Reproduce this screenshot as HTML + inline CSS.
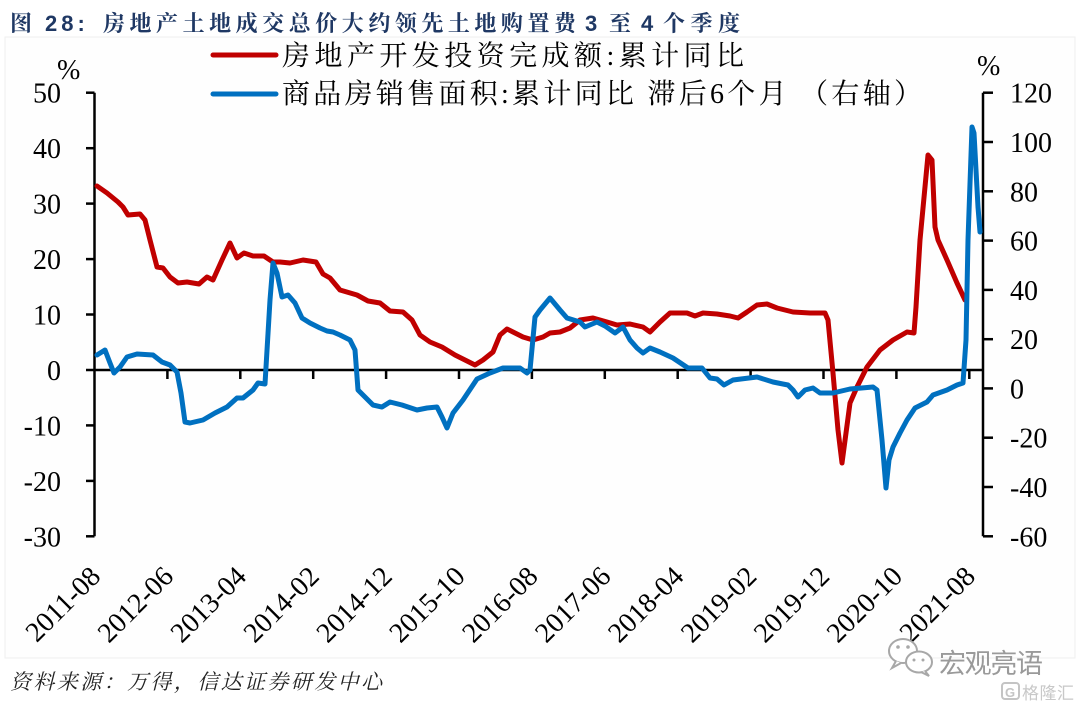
<!DOCTYPE html>
<html>
<head>
<meta charset="utf-8">
<style>
  html, body { margin: 0; padding: 0; background: #ffffff; }
  svg { display: block; }
</style>
</head>
<body>
<svg width="1080" height="704" viewBox="0 0 1080 704" xmlns="http://www.w3.org/2000/svg">
  <rect x="0" y="0" width="1080" height="704" fill="#ffffff"/>
  <rect x="5" y="37" width="1070" height="621" fill="#fefefe" stroke="#efefef" stroke-width="1"/>

  <!-- Title -->
  <g font-family="'Liberation Sans','Noto Serif CJK SC',serif" font-size="22" font-weight="bold" fill="#1F3864">
    <text x="10" y="31">图</text>
    <text x="45" y="31" letter-spacing="4">28:</text>
    <text x="103" y="31" textLength="473" lengthAdjust="spacing">房地产土地成交总价大约领先土地购置费</text>
    <text x="585" y="31">3</text>
    <text x="609" y="31">至</text>
    <text x="641" y="31">4</text>
    <text x="663" y="31" textLength="77" lengthAdjust="spacing">个季度</text>
  </g>

  <!-- Legend -->
  <line x1="213" y1="55" x2="276" y2="55" stroke="#C00000" stroke-width="5" stroke-linecap="round"/>
  <text x="282" y="65" font-family="'Liberation Serif','Noto Serif CJK SC',serif" font-size="28" fill="#000" textLength="462" lengthAdjust="spacing">房地产开发投资完成额:累计同比</text>
  <line x1="213" y1="94" x2="276" y2="94" stroke="#0070C0" stroke-width="5" stroke-linecap="round"/>
  <text x="282" y="103" font-family="'Liberation Serif','Noto Serif CJK SC',serif" font-size="28" fill="#000" textLength="640" lengthAdjust="spacing">商品房销售面积:累计同比 滞后6个月 （右轴）</text>

  <!-- Unit labels -->
  <text x="57" y="79" font-family="'Liberation Serif',serif" font-size="28" fill="#000">%</text>
  <text x="977" y="75" font-family="'Liberation Serif',serif" font-size="28" fill="#000">%</text>

  <!-- Left axis labels -->
  <g font-family="'Liberation Serif',serif" font-size="28" fill="#000" text-anchor="end">
    <text x="61" y="102.7">50</text>
    <text x="61" y="158.2">40</text>
    <text x="61" y="213.6">30</text>
    <text x="61" y="269.1">20</text>
    <text x="61" y="324.5">10</text>
    <text x="61" y="380">0</text>
    <text x="61" y="435.4">-10</text>
    <text x="61" y="490.9">-20</text>
    <text x="61" y="546.3">-30</text>
  </g>

  <!-- Right axis labels -->
  <g font-family="'Liberation Serif',serif" font-size="28" fill="#000" text-anchor="start">
    <text x="1010" y="102.7">120</text>
    <text x="1010" y="152">100</text>
    <text x="1010" y="201.3">80</text>
    <text x="1010" y="250.6">60</text>
    <text x="1010" y="299.9">40</text>
    <text x="1010" y="349.2">20</text>
    <text x="1010" y="398.4">0</text>
    <text x="1010" y="447.7">-20</text>
    <text x="1010" y="497">-40</text>
    <text x="1010" y="546.3">-60</text>
  </g>

  <!-- Axes -->
  <g stroke="#000" stroke-width="2.5" fill="none">
    <line x1="94.5" y1="92.7" x2="94.5" y2="536.3"/>
    <line x1="86" y1="92.7" x2="94.5" y2="92.7"/>
    <line x1="86" y1="148.2" x2="94.5" y2="148.2"/>
    <line x1="86" y1="203.6" x2="94.5" y2="203.6"/>
    <line x1="86" y1="259.1" x2="94.5" y2="259.1"/>
    <line x1="86" y1="314.5" x2="94.5" y2="314.5"/>
    <line x1="86" y1="425.4" x2="94.5" y2="425.4"/>
    <line x1="86" y1="480.9" x2="94.5" y2="480.9"/>
    <line x1="86" y1="536.3" x2="94.5" y2="536.3"/>

    <line x1="983" y1="92.7" x2="983" y2="536.3"/>
    <line x1="983" y1="92.7" x2="993" y2="92.7"/>
    <line x1="983" y1="142" x2="993" y2="142"/>
    <line x1="983" y1="191.3" x2="993" y2="191.3"/>
    <line x1="983" y1="240.6" x2="993" y2="240.6"/>
    <line x1="983" y1="289.9" x2="993" y2="289.9"/>
    <line x1="983" y1="339.2" x2="993" y2="339.2"/>
    <line x1="983" y1="388.4" x2="993" y2="388.4"/>
    <line x1="983" y1="437.7" x2="993" y2="437.7"/>
    <line x1="983" y1="487" x2="993" y2="487"/>
    <line x1="983" y1="536.3" x2="993" y2="536.3"/>

    <line x1="86" y1="370" x2="983" y2="370"/>
    <line x1="167.4" y1="370" x2="167.4" y2="379"/>
    <line x1="240.3" y1="370" x2="240.3" y2="379"/>
    <line x1="313.2" y1="370" x2="313.2" y2="379"/>
    <line x1="386.1" y1="370" x2="386.1" y2="379"/>
    <line x1="459" y1="370" x2="459" y2="379"/>
    <line x1="531.9" y1="370" x2="531.9" y2="379"/>
    <line x1="604.8" y1="370" x2="604.8" y2="379"/>
    <line x1="677.7" y1="370" x2="677.7" y2="379"/>
    <line x1="750.6" y1="370" x2="750.6" y2="379"/>
    <line x1="823.5" y1="370" x2="823.5" y2="379"/>
    <line x1="896.4" y1="370" x2="896.4" y2="379"/>
    <line x1="969.3" y1="370" x2="969.3" y2="379"/>
  </g>

  <!-- Red series -->
  <polyline fill="none" stroke="#C00000" stroke-width="5" stroke-linejoin="round" stroke-linecap="round"
    points="97,186 107,193 118,202 123,207 128,215 140,214 145,220 150,240 157,267 163,268 170,277 178,283 187,282 199,284 207,277 213,280 222,260 230,243 237,258 244,253 253,256 264,256 273,262 280,262 290,263 303,260 316,262 323,274 330,278 340,290 357,295 368,301 380,303 390,311 403,312 412,320 420,335 430,342 442,347 455,355 467,361 475,365 483,360 493,352 500,335 507,329 513,332 523,337 533,340 543,337 550,333 560,332 570,328 580,320 593,318 607,322 617,325 630,324 643,327 650,332 660,322 670,313 687,313 695,316 703,313 717,314 730,316 738,318 747,312 757,305 767,304 777,308 793,312 810,313 825,313 828,320 833,373 838,430 842,463 846,433 850,403 857,387 867,367 880,350 893,340 907,332 914,333 916,307 920,240 928,155 932,160 935,227 938,240 947,260 957,283 965,300"/>

  <!-- Blue series -->
  <polyline fill="none" stroke="#0070C0" stroke-width="5" stroke-linejoin="round" stroke-linecap="round"
    points="97,355 105,350 110,363 114,373 120,367 127,357 137,354 153,355 162,362 170,365 177,372 181,393 185,422 190,423 203,420 215,413 227,407 237,398 243,398 253,390 258,383 265,384 270,300 273,263 277,273 282,297 288,295 295,303 302,318 310,323 320,328 327,331 333,332 340,335 350,340 355,350 358,390 363,395 373,405 382,407 390,402 402,405 417,410 427,408 437,407 442,417 447,428 453,413 463,400 477,379 490,373 503,368 520,368 527,373 530,370 535,317 540,310 550,298 560,310 567,318 580,322 585,327 597,322 605,326 615,333 623,327 630,340 637,348 643,353 650,348 660,352 673,358 688,368 702,368 710,378 717,379 724,385 733,380 757,377 773,382 788,385 793,390 798,397 805,390 813,388 820,393 833,393 850,389 873,387 877,390 882,440 886,488 889,460 893,447 900,433 907,420 915,408 927,402 933,395 947,390 957,385 963,383 966,340 968,240 972,127 974,133 978,207 980,232"/>

  <!-- X axis labels -->
  <g font-family="'Liberation Serif',serif" font-size="28" fill="#000" text-anchor="end">
    <text transform="translate(102,578) rotate(-45)">2011-08</text>
    <text transform="translate(174.9,578) rotate(-45)">2012-06</text>
    <text transform="translate(247.8,578) rotate(-45)">2013-04</text>
    <text transform="translate(320.7,578) rotate(-45)">2014-02</text>
    <text transform="translate(393.6,578) rotate(-45)">2014-12</text>
    <text transform="translate(466.5,578) rotate(-45)">2015-10</text>
    <text transform="translate(539.4,578) rotate(-45)">2016-08</text>
    <text transform="translate(612.3,578) rotate(-45)">2017-06</text>
    <text transform="translate(685.2,578) rotate(-45)">2018-04</text>
    <text transform="translate(758.1,578) rotate(-45)">2019-02</text>
    <text transform="translate(831,578) rotate(-45)">2019-12</text>
    <text transform="translate(903.9,578) rotate(-45)">2020-10</text>
    <text transform="translate(976.8,578) rotate(-45)">2021-08</text>
  </g>

  <!-- Source -->
  <text x="10" y="689" font-family="'Liberation Serif','Noto Serif CJK SC',serif" font-size="21" font-style="italic" fill="#222" textLength="372" lengthAdjust="spacing">资料来源：万得，信达证券研发中心</text>

  <!-- Watermark: wechat icon + text -->
  <g stroke="#a8a8a8" stroke-width="2" fill="#ffffff">
    <ellipse cx="903" cy="651" rx="14" ry="12"/>
    <path d="M896,661 L892,668 L901,663" />
    <ellipse cx="919" cy="662" rx="13" ry="10.5"/>
    <path d="M925,671 L929,676 L921,672" />
  </g>
  <g fill="#a8a8a8">
    <circle cx="898" cy="647" r="1.8"/>
    <circle cx="908" cy="647" r="1.8"/>
    <circle cx="914" cy="660" r="1.5"/>
    <circle cx="923" cy="660" r="1.5"/>
  </g>
  <text x="939" y="673" font-family="'Liberation Sans','Noto Sans CJK SC',sans-serif" font-size="27" fill="#9a9a9a" textLength="104" lengthAdjust="spacing">宏观亮语</text>

  <!-- Watermark: 格隆汇 -->
  <rect x="1002" y="683" width="17" height="16" rx="3" fill="none" stroke="#c4c4c4" stroke-width="2"/>
  <text x="1005" y="697" font-family="'Liberation Sans',sans-serif" font-size="13" font-weight="bold" fill="#c4c4c4">G</text>
  <text x="1022" y="699" font-family="'Liberation Sans','Noto Sans CJK SC',sans-serif" font-size="17" fill="#c8c8c8" textLength="52" lengthAdjust="spacing">格隆汇</text>
</svg>
</body>
</html>
